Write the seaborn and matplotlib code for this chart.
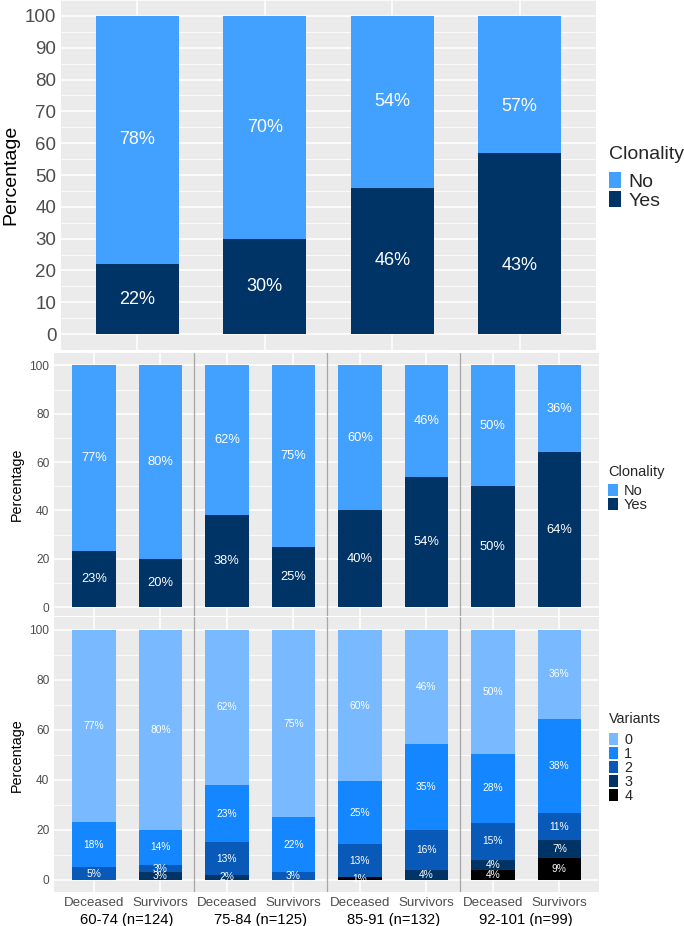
import matplotlib
matplotlib.use("Agg")
import matplotlib.pyplot as plt
import seaborn as sns
import pandas as pd
import numpy as np
from matplotlib.patches import Patch
from matplotlib.ticker import MultipleLocator

# ---------------- data ----------------
age_groups = ["60-74 (n=124)", "75-84 (n=125)", "85-91 (n=132)", "92-101 (n=99)"]
status = ["Deceased", "Survivors"]

# top panel (per age group)
top_yes_height = [22, 30, 46, 57]
top_yes_label = [22, 30, 46, 43]
top_no_label = [78, 70, 54, 57]

# middle panel (age group x status)
mid_yes = [23, 20, 38, 25, 40, 54, 50, 64]
mid_no = [77, 80, 62, 75, 60, 46, 50, 36]

# bottom panel: number of variants
var_levels = ["0", "1", "2", "3", "4"]
var0 = [77, 80, 62, 75, 60, 46, 50, 36]
var1 = [18, 14, 23, 22, 25, 35, 28, 38]
var2 = [5, 3, 13, 3, 13, 16, 15, 11]
var3 = [0, 3, 2, 0, 0, 4, 4, 7]
var4 = [0, 0, 0, 0, 1, 0, 4, 9]

# ---------------- style ----------------
NO_C = "#42A0FF"
YES_C = "#003366"
VAR_C = ["#78B9FF", "#1486FF", "#0859B8", "#003366", "#000000"]
BG = "#EBEBEB"
TICK_C = "#4D4D4D"
FONT = ["Liberation Sans", "DejaVu Sans"]

sns.set_style("white")
plt.rcParams["font.family"] = FONT

W, H = 684, 926
fig = plt.figure(figsize=(W / 100, H / 100), dpi=100)
fig.patch.set_facecolor("white")


def frac(x0, y0, x1, y1):
    return [x0 / W, 1 - y1 / H, (x1 - x0) / W, (y1 - y0) / H]


def style_axis(ax, n, ylo, major, minor, tick_fs, ylab_fs, xticks_len=2.2):
    ax.set_facecolor(BG)
    for s in ax.spines.values():
        s.set_visible(False)
    ax.set_xlim(-0.6, n - 0.4)
    ax.set_ylim(ylo, 105)
    ax.yaxis.set_major_locator(MultipleLocator(major))
    ax.yaxis.set_minor_locator(MultipleLocator(minor))
    ax.set_yticks(np.arange(0, 101, major))
    ax.grid(True, which="major", color="white", lw=1.1)
    ax.grid(True, which="minor", axis="y", color="white", lw=0.55)
    ax.set_axisbelow(True)
    ax.tick_params(axis="y", which="major", length=2.2, width=0.8, color="#333333",
                   labelsize=tick_fs, labelcolor=TICK_C, pad=1.2)
    ax.tick_params(axis="y", which="minor", length=0)
    ax.tick_params(axis="x", length=xticks_len, width=0.8, color="#333333", pad=1.2)
    ax.set_ylabel("Percentage", fontsize=ylab_fs, color="black")
    ax.set_xlabel("")


# ---------------- top panel ----------------
ax1 = fig.add_axes(frac(61, 0, 596, 350))
df_top = pd.DataFrame({"age": age_groups, "yes": top_yes_height,
                       "total": [100] * len(age_groups)})
sns.barplot(data=df_top, x="age", y="total", color=NO_C, width=0.65,
            saturation=1, linewidth=0, errorbar=None, ax=ax1)
sns.barplot(data=df_top, x="age", y="yes", color=YES_C, width=0.65,
            saturation=1, linewidth=0, errorbar=None, ax=ax1)
style_axis(ax1, 4, -5, 10, 5, 13.5, 14)
ax1.set_xticks(range(4))
ax1.set_xticklabels([""] * 4)
ax1.yaxis.set_label_coords(-0.078, 0.5)
for i, (y, n) in enumerate(zip(top_yes_label, top_no_label)):
    ax1.text(i, y / 2, f"{y}%", color="white", fontsize=13, ha="center", va="center")
    ax1.text(i, y + n / 2, f"{n}%", color="white", fontsize=13, ha="center", va="center")

# categories for 8-bar panels
cats = [f"{g}|{s}" for g in age_groups for s in status]

# ---------------- middle panel ----------------
ax2 = fig.add_axes(frac(54, 353.3, 599.3, 616))
df_mid = pd.DataFrame({"cat": cats, "yes": mid_yes, "total": [100] * len(cats)})
sns.barplot(data=df_mid, x="cat", y="total", color=NO_C, width=0.65,
            saturation=1, linewidth=0, errorbar=None, ax=ax2)
sns.barplot(data=df_mid, x="cat", y="yes", color=YES_C, width=0.65,
            saturation=1, linewidth=0, errorbar=None, ax=ax2)
style_axis(ax2, 8, -3.7, 20, 10, 8.6, 10.3, xticks_len=0)
ax2.set_xticks(range(8))
ax2.set_xticklabels([""] * 8)
ax2.yaxis.set_label_coords(-0.055, 0.5)
for i, (y, n) in enumerate(zip(mid_yes, mid_no)):
    ax2.text(i, y / 2, f"{y}%", color="white", fontsize=9.3, ha="center", va="center")
    ax2.text(i, y + n / 2, f"{n}%", color="white", fontsize=9.3, ha="center", va="center")
for k in range(1, len(age_groups)):
    ax2.axvline(2 * k - 0.5, color="#A6A6A6", lw=0.9, zorder=3)

# ---------------- bottom panel ----------------
ax3 = fig.add_axes(frac(54, 617.3, 599.3, 892.3))
vals = np.array([var0, var1, var2, var3, var4], dtype=float)
norm = vals / vals.sum(axis=0) * 100
df_bot = pd.DataFrame(norm.T, columns=var_levels)
df_bot["cat"] = cats
# draw cumulative stacks, largest first so later bars overlay
for j, lev in enumerate(var_levels):
    cum = df_bot[var_levels[j:]].sum(axis=1)
    sns.barplot(x=df_bot["cat"], y=cum, color=VAR_C[j], width=0.65,
                saturation=1, linewidth=0, errorbar=None, ax=ax3)
style_axis(ax3, 8, -5, 20, 10, 8.6, 10.4)
ax3.set_xticks(range(8))
ax3.set_xticklabels([s for g in age_groups for s in status], fontsize=9.6, color=TICK_C)
ax3.yaxis.set_label_coords(-0.055, 0.5)
for i in range(len(cats)):
    base = 0.0
    for j in range(len(var_levels) - 1, -1, -1):
        h = norm[j, i]
        if vals[j, i] > 0:
            ax3.text(i, base + h / 2, f"{int(vals[j, i])}%", color="white",
                     fontsize=7.4, ha="center", va="center")
        base += h
for k in range(1, len(age_groups)):
    ax3.axvline(2 * k - 0.5, color="#A6A6A6", lw=0.9, zorder=3)
for k, g in enumerate(age_groups):
    ax3.annotate(g, xy=(2 * k + 0.5, 0), xycoords=("data", "axes fraction"),
                 xytext=(0, -22.5), textcoords="offset points",
                 ha="center", va="baseline", fontsize=10.6, color="black")

# ---------------- legends ----------------
def add_legend(labels, colors, title, fs, x, y, hl, hh, gap):
    handles = [Patch(facecolor=c, edgecolor="none") for c in colors]
    leg = fig.legend(handles, labels, title=title, loc="upper left",
                     bbox_to_anchor=(x / W, 1 - y / H), frameon=False,
                     fontsize=fs, title_fontsize=fs, handlelength=hl,
                     handleheight=hh, labelspacing=0, handletextpad=0.4,
                     borderpad=0, borderaxespad=0, alignment="left")
    leg._legend_box.sep = gap
    return leg

add_legend(["No", "Yes"], [NO_C, YES_C], "Clonality", 14, 609, 146, 0.62, 0.9, 6.5)
add_legend(["No", "Yes"], [NO_C, YES_C], "Clonality", 10.5, 608, 465, 0.7, 0.9, 3.6)
add_legend(var_levels, VAR_C, "Variants", 10.4, 609, 712, 0.65, 0.92, 5)

fig.savefig("out.png", dpi=100, facecolor="white")
